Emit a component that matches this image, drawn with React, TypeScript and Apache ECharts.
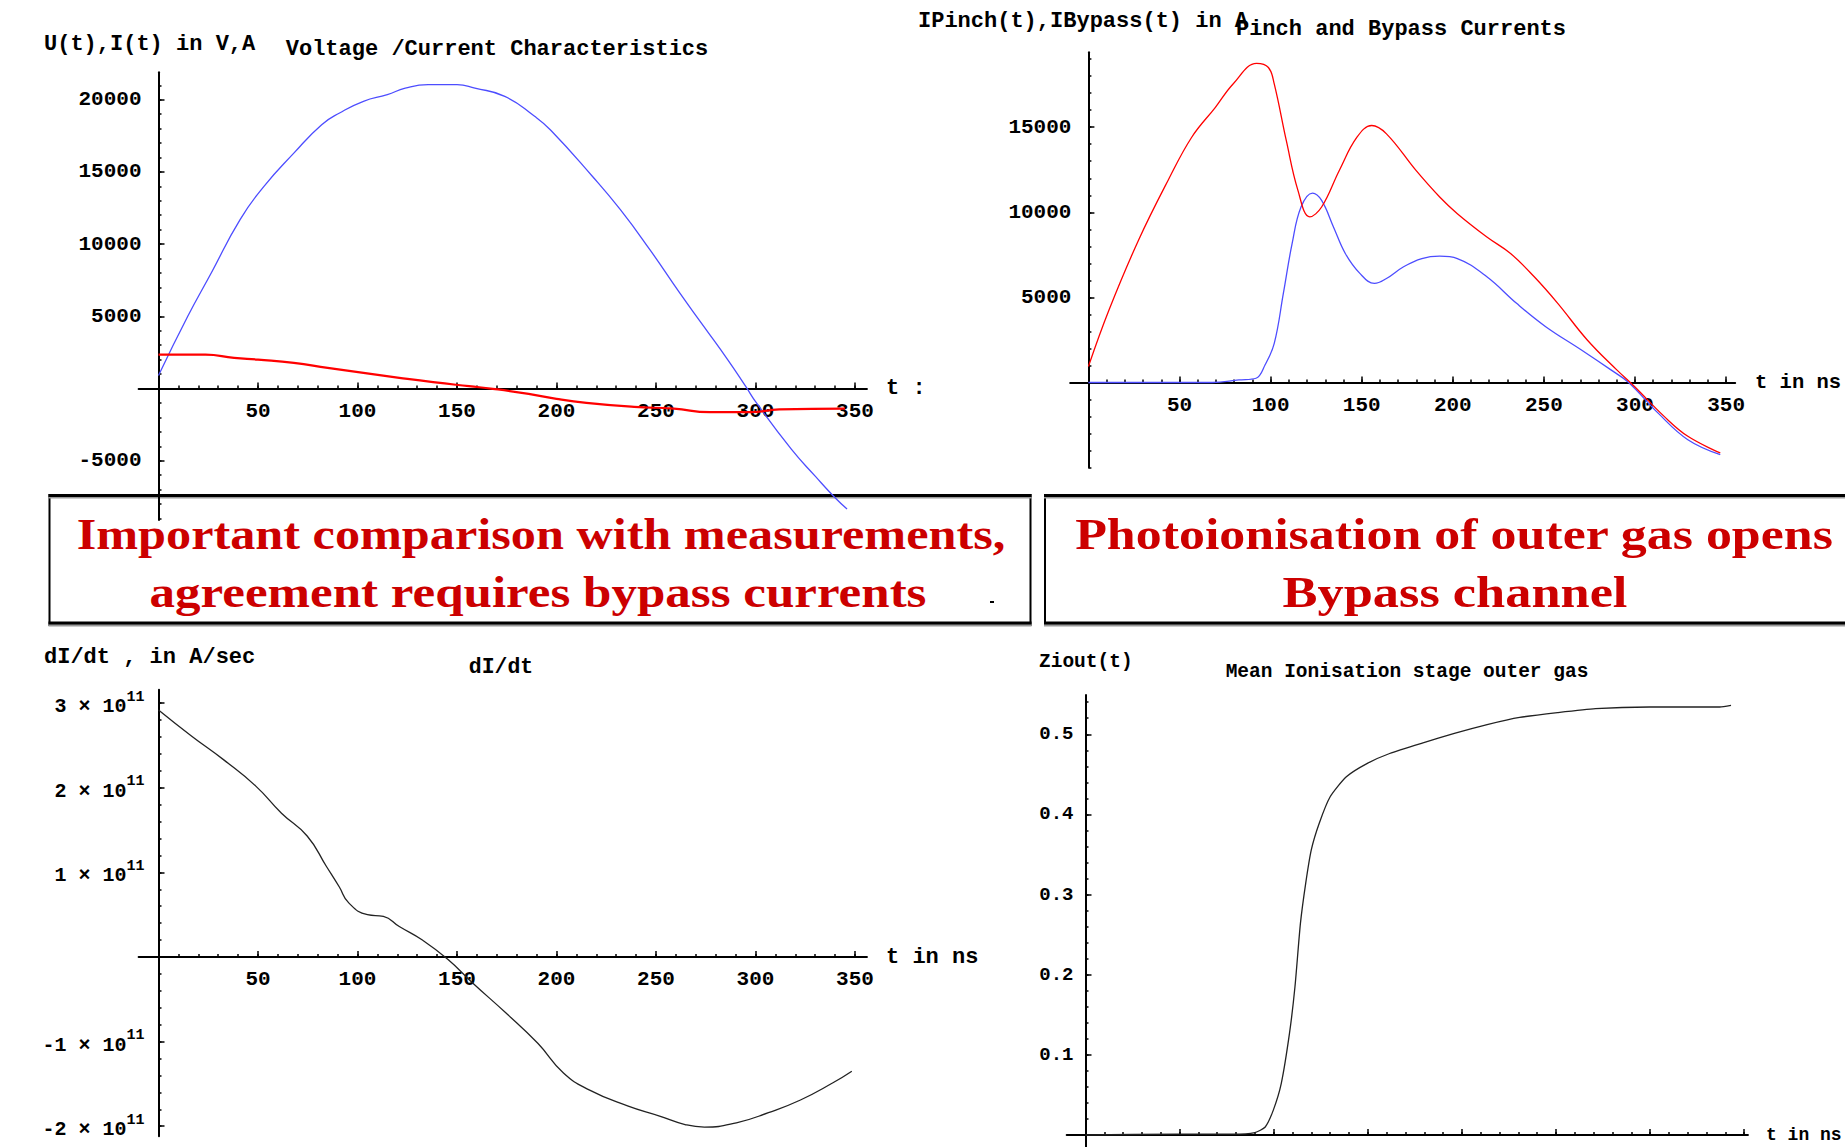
import React, { useEffect, useRef } from 'react';
import * as echarts from 'echarts';

// ---------- Panel 1: Voltage / Current characteristics ----------
const vcVoltageT = [0, 14.7, 26.5, 41, 53, 68, 82, 91, 103, 115, 124, 135.5, 150, 159, 174, 189, 197, 218, 232, 247, 262, 274, 286, 295, 300.5, 318, 330, 340, 346];
const vcVoltage = [900, 5000, 8000, 11700, 14000, 16300, 18270, 19080, 19890, 20350, 20800, 21040, 21040, 20800, 20230, 18850, 17900, 14700, 12400, 9600, 6600, 4300, 2000, 160, -1000, -4200, -6070, -7570, -8350];
const vcCurrentT = [0, 23.6, 38, 50, 68, 85, 103, 121, 138, 156, 168, 186, 200, 215, 239, 259, 277, 297.6, 312, 345];
const vcCurrent = [2350, 2350, 2120, 2000, 1780, 1430, 1080, 740, 440, 160, -20, -370, -715, -990, -1270, -1400, -1640, -1640, -1450, -1400];

// ---------- Panel 2: Pinch and Bypass currents ----------
const pbPinchT = [0, 11.3, 27.5, 43.7, 56.7, 69.7, 79.4, 92.3, 98.8, 102, 108.6, 115, 121.5, 128, 137.7, 147.4, 155.5, 163.6, 179.8, 192.8, 202.5, 218.7, 231.7, 244.7, 257.6, 273.8, 290, 299.7, 316, 329, 346.8];
const pbPinch = [940, 4260, 8360, 11870, 14410, 16170, 17540, 18750, 18510, 17540, 14220, 11290, 9730, 10310, 12460, 14410, 15100, 14610, 12460, 10900, 9920, 8550, 7580, 6210, 4650, 2500, 740, -230, -1990, -3160, -4140];
const pbBypassT = [0, 68, 82.6, 92, 97, 102, 107, 111.8, 116.7, 123, 128, 134.5, 141, 149, 157, 163.6, 173, 183, 192.8, 202.5, 218.7, 235, 251, 270.6, 286.8, 296.5, 312.7, 329, 346.8];
const pbBypass = [0, 0, 150, 250, 1040, 2300, 5230, 8160, 10310, 11130, 10700, 9140, 7580, 6410, 5820, 6110, 6800, 7280, 7420, 7280, 6210, 4650, 3280, 1910, 740, 0, -1800, -3360, -4240];

// ---------- Panel 3: dI/dt ----------
const didtT = [0, 16.7, 32.8, 48.9, 61.8, 74.7, 84.4, 90.8, 95.6, 105, 113, 121, 132.6, 145.5, 158, 174.5, 190.6, 203.5, 216.4, 235.7, 251.8, 264.6, 274.3, 290.4, 306.5, 322.6, 338.7, 348.4];
const didt = [2.92e11, 2.61e11, 2.33e11, 2.02e11, 1.70e11, 1.43e11, 1.07e11, 0.83e11, 0.64e11, 0.50e11, 0.48e11, 0.36e11, 0.20e11, -0.03e11, -0.31e11, -0.66e11, -1.02e11, -1.37e11, -1.57e11, -1.76e11, -1.88e11, -1.98e11, -2.01e11, -1.96e11, -1.84e11, -1.69e11, -1.49e11, -1.35e11];

// ---------- Panel 4: Mean ionisation stage outer gas ----------
const zioutT = [0, 49, 78, 90, 95.5, 99.8, 104, 108.4, 111.3, 114.2, 117, 120, 124.2, 130, 138.6, 150, 161.6, 178.9, 196, 213.4, 230.7, 250.8, 271, 299.7, 337, 343];
const ziout = [0, 0.001, 0.001, 0.003, 0.010, 0.031, 0.064, 0.127, 0.185, 0.264, 0.314, 0.356, 0.389, 0.422, 0.447, 0.464, 0.476, 0.489, 0.501, 0.512, 0.521, 0.527, 0.532, 0.534, 0.534, 0.536];

// ---------- Tick labels ----------
const tLabels = [50, 100, 150, 200, 250, 300, 350];
const p1YLabels = [-5000, 5000, 10000, 15000, 20000];
const p2YLabels = [5000, 10000, 15000];
const p3YLabels = [-2e11, -1e11, 1e11, 2e11, 3e11];
const p4YLabels = [0.1, 0.2, 0.3, 0.4, 0.5];

const MONO = "'Liberation Mono', 'DejaVu Sans Mono', monospace";
const SERIF = "'Liberation Serif', 'DejaVu Serif', serif";
const BLUE = '#4d4dff';
const RED = '#ff0000';

function steps(from: number, to: number, step: number, scale = 1): number[] {
  const out: number[] = [];
  for (let k = Math.round(from / step); k * step <= to + 1e-9; k++) {
    if (k !== 0) out.push(k * step * scale);
  }
  return out;
}

const tTicks = steps(10, 350, 10);
const p1YTicks = steps(-9000, 21000, 1000);
const p2YTicks = steps(-5000, 19000, 1000);
const p3YTicks = steps(-10, 15, 1, 2e10);
const p4YTicks = steps(1, 27, 1, 0.02);

const zip = (a: number[], b: number[]) => a.map((v, i) => [v, b[i]]);

type Panel = {
  x0: number; xpu: number; xmin: number; xmax: number;
  y0: number; ypu: number; ymin: number; ymax: number;
  font: number; xLabels: number[] | null; yTicks: number[]; yLabels: number[];
  xMargin: number; yMargin: number; yFmt?: (v: number) => string; yRich?: any;
};

const panels: Panel[] = [
  { x0: 158.5, xpu: 1.99, xmin: -10, xmax: 356, y0: 388.5, ypu: 72.2 / 5000, ymin: -9100, ymax: 21900, font: 21, xLabels: tLabels, yTicks: p1YTicks, yLabels: p1YLabels, xMargin: 12, yMargin: 17 },
  { x0: 1088.4, xpu: 1.822, xmin: -10, xmax: 355, y0: 382.5, ypu: 85.1 / 5000, ymin: -5000, ymax: 19400, font: 21, xLabels: tLabels, yTicks: p2YTicks, yLabels: p2YLabels, xMargin: 12, yMargin: 17 },
  {
    x0: 158.5, xpu: 1.99, xmin: -10, xmax: 356, y0: 957, ypu: 84.6 / 1e11, ymin: -2.12e11, ymax: 3.16e11, font: 21, xLabels: tLabels, yTicks: p3YTicks, yLabels: p3YLabels, xMargin: 12, yMargin: 14,
    yFmt: (v: number) => `{b|${Math.round(v / 1e11)} × 10}{s|11}`,
    yRich: {
      b: { fontFamily: MONO, fontWeight: 'bold', fontSize: 20, color: '#000', lineHeight: 27, verticalAlign: 'bottom' },
      s: { fontFamily: MONO, fontWeight: 'bold', fontSize: 15, color: '#000', lineHeight: 16, verticalAlign: 'top' },
    },
  },
  { x0: 1085.5, xpu: 1.882, xmin: -10, xmax: 352, y0: 1135.3, ypu: 802, ymin: -0.015, ymax: 0.549, font: 19, xLabels: null, yTicks: p4YTicks, yLabels: p4YLabels, xMargin: 12, yMargin: 12 },
];

const texts = [
  { t: 'U(t),I(t) in V,A', x: 44, y: 44, size: 22, align: 'left' },
  { t: 'Voltage /Current Characteristics', x: 497, y: 49, size: 22, align: 'center' },
  { t: 't :', x: 886, y: 388, size: 22, align: 'left' },
  { t: 'IPinch(t),IBypass(t) in A', x: 918, y: 21, size: 22, align: 'left' },
  { t: 'Pinch and Bypass Currents', x: 1401, y: 29, size: 22, align: 'center' },
  { t: 't in ns', x: 1755, y: 382, size: 20.5, align: 'left' },
  { t: 'dI/dt , in A/sec', x: 44, y: 657, size: 22, align: 'left' },
  { t: 'dI/dt', x: 501, y: 667, size: 21.5, align: 'center' },
  { t: 't in ns', x: 886, y: 957, size: 22, align: 'left' },
  { t: 'Ziout(t)', x: 1039, y: 662, size: 19.5, align: 'left' },
  { t: 'Mean Ionisation stage outer gas', x: 1407, y: 672, size: 19.5, align: 'center' },
  { t: 't in ns', x: 1766, y: 1135, size: 18, align: 'left' },
];

const boxTexts = [
  { t: 'Important comparison with measurements,', cx: 541, base: 549, w: 929 },
  { t: 'agreement requires bypass currents', cx: 538, base: 607, w: 777 },
  { t: 'Photoionisation of outer gas opens', cx: 1454, base: 549, w: 759 },
  { t: 'Bypass channel', cx: 1455, base: 607, w: 345 },
];

function measure(text: string, font: string): number {
  const ctx = document.createElement('canvas').getContext('2d');
  if (!ctx) return text.length * 20;
  ctx.font = font;
  return ctx.measureText(text).width;
}

function buildOption() {
  const grid: any[] = [];
  const xAxis: any[] = [];
  const yAxis: any[] = [];
  panels.forEach((p, i) => {
    const left = p.x0 + p.xmin * p.xpu;
    const width = (p.xmax - p.xmin) * p.xpu;
    const top = p.y0 - p.ymax * p.ypu;
    const height = (p.ymax - p.ymin) * p.ypu;
    grid.push({ left, top, width, height, containLabel: false });
    const xOff = p.ymin * p.ypu;
    const yOff = p.xmin * p.xpu;
    const labelStyle = { fontFamily: MONO, fontWeight: 'bold', fontSize: p.font, color: '#000' };
    xAxis.push({
      type: 'value', gridIndex: i, min: p.xmin, max: p.xmax, position: 'bottom', offset: xOff,
      axisLine: { show: true, onZero: false, lineStyle: { color: '#000', width: 2 } },
      axisTick: { show: true, inside: true, length: 3, customValues: tTicks, lineStyle: { color: '#000', width: 1.5 } },
      axisLabel: p.xLabels
        ? { show: true, customValues: p.xLabels, margin: p.xMargin, formatter: (v: number) => String(v), ...labelStyle }
        : { show: false },
      splitLine: { show: false },
    });
    xAxis.push({
      type: 'value', gridIndex: i, min: p.xmin, max: p.xmax, position: 'bottom', offset: xOff,
      axisLine: { show: false, onZero: false },
      axisTick: { show: true, inside: true, length: 6, customValues: tLabels, lineStyle: { color: '#000', width: 1.5 } },
      axisLabel: { show: false },
      splitLine: { show: false },
    });
    yAxis.push({
      type: 'value', gridIndex: i, min: p.ymin, max: p.ymax, position: 'left', offset: yOff,
      axisLine: { show: true, onZero: false, lineStyle: { color: '#000', width: 2 } },
      axisTick: { show: true, inside: true, length: 3, customValues: p.yTicks, lineStyle: { color: '#000', width: 1.5 } },
      axisLabel: {
        show: true, customValues: p.yLabels, margin: p.yMargin,
        formatter: p.yFmt ? p.yFmt : (v: number) => String(v),
        rich: p.yRich, ...labelStyle,
      },
      splitLine: { show: false },
    });
    yAxis.push({
      type: 'value', gridIndex: i, min: p.ymin, max: p.ymax, position: 'left', offset: yOff,
      axisLine: { show: false, onZero: false },
      axisTick: { show: true, inside: true, length: 6, customValues: p.yLabels, lineStyle: { color: '#000', width: 1.5 } },
      axisLabel: { show: false },
      splitLine: { show: false },
    });
  });

  const line = (name: string, gi: number, data: number[][], color: string, width: number, smooth = 0.5) => ({
    name, type: 'line', xAxisIndex: gi * 2, yAxisIndex: gi * 2, data,
    showSymbol: false, symbol: 'none', smooth,
    lineStyle: { color, width }, z: 3,
  });

  const series = [
    line('U(t)', 0, zip(vcVoltageT, vcVoltage), BLUE, 1.3),
    line('I(t)', 0, zip(vcCurrentT, vcCurrent), RED, 2.2),
    line('IBypass(t)', 1, zip(pbBypassT, pbBypass), BLUE, 1.3, 0.4),
    line('IPinch(t)', 1, zip(pbPinchT, pbPinch), RED, 1.3, 0.4),
    line('dI/dt', 2, zip(didtT, didt), '#222', 1.3),
    line('Ziout(t)', 3, zip(zioutT, ziout), '#222', 1.3, 0.2),
  ];

  const graphic: any[] = [];
  // annotation boxes
  const boxes = [
    { x: 49.5, w: 981 },
    { x: 1045, w: 820 },
  ];
  boxes.forEach((b) => {
    graphic.push({ type: 'rect', z: -10, shape: { x: b.x, y: 495, width: b.w, height: 130 }, style: { fill: '#fff', stroke: '#000', lineWidth: 2 } });
    graphic.push({ type: 'line', z: -9, shape: { x1: b.x - 1, y1: 495.5, x2: b.x + b.w + 1, y2: 495.5 }, style: { stroke: '#000', lineWidth: 3 } });
    graphic.push({ type: 'line', z: -9, shape: { x1: b.x - 1, y1: 497.8, x2: b.x + b.w + 1, y2: 497.8 }, style: { stroke: '#9a9a9a', lineWidth: 1.6 } });
    graphic.push({ type: 'line', z: -9, shape: { x1: b.x - 1, y1: 623, x2: b.x + b.w + 1, y2: 623 }, style: { stroke: '#000', lineWidth: 3 } });
    graphic.push({ type: 'line', z: -9, shape: { x1: b.x - 1, y1: 625.5, x2: b.x + b.w + 1, y2: 625.5 }, style: { stroke: '#9a9a9a', lineWidth: 1.8 } });
  });
  const boxFontSize = 45;
  const boxFont = `bold ${boxFontSize}px 'Liberation Serif'`;
  boxTexts.forEach((bt) => {
    const natural = measure(bt.t, boxFont);
    const sx = natural > 0 ? bt.w / natural : 1;
    graphic.push({
      type: 'text', z: -5, x: bt.cx, y: bt.base - 0.3375 * boxFontSize, scaleX: sx,
      style: {
        text: bt.t, fill: '#cc0000', fontSize: boxFontSize, fontWeight: 'bold', fontFamily: SERIF,
        align: 'center', verticalAlign: 'middle', textAlign: 'center', textVerticalAlign: 'middle',
      },
    });
  });
  graphic.push({ type: 'rect', z: -5, shape: { x: 990, y: 601, width: 4, height: 2 }, style: { fill: '#000' } });

  texts.forEach((tx) => {
    graphic.push({
      type: 'text', x: tx.x, y: tx.y, z: 5,
      style: {
        text: tx.t, fill: '#000', fontSize: tx.size, fontWeight: 'bold', fontFamily: MONO,
        align: tx.align, verticalAlign: 'middle', textAlign: tx.align, textVerticalAlign: 'middle',
      },
    });
  });

  return {
    animation: false,
    backgroundColor: '#ffffff',
    textStyle: { fontFamily: MONO },
    grid, xAxis, yAxis, series, graphic,
  };
}

export default function App() {
  const ref = useRef<HTMLDivElement>(null);
  useEffect(() => {
    if (!ref.current) return;
    const chart = echarts.init(ref.current, null, { renderer: 'svg' });
    chart.setOption(buildOption() as any);
    return () => chart.dispose();
  }, []);
  return (
    <div
      ref={ref}
      style={{ position: 'absolute', left: 0, top: 0, width: 1845, height: 1147, background: '#fff' }}
    />
  );
}
